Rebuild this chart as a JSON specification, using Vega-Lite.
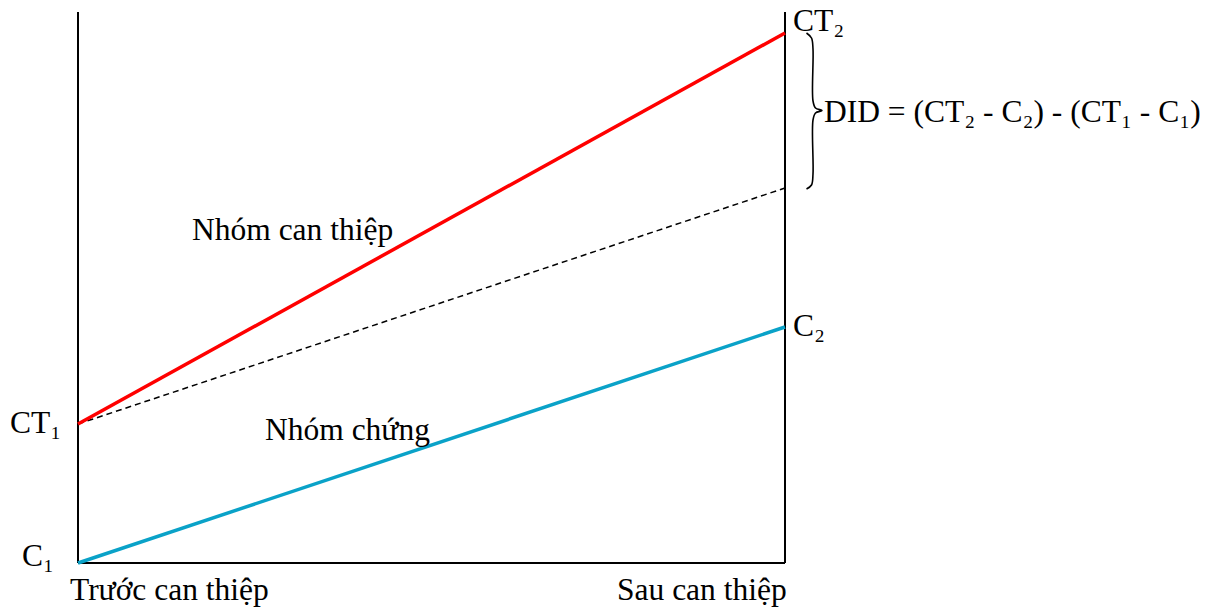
{
  "$schema": "https://vega.github.io/schema/vega-lite/v6.json",
  "width": 707,
  "height": 551,
  "autosize": "none",
  "padding": {"left": 78, "top": 12, "right": 428, "bottom": 44},
  "background": "white",
  "config": {"view": {"stroke": null}},
  "datasets": {
    "frame": [
      {"x": 0, "y": 0, "x2": 0, "y2": 551},
      {"x": 0, "y": 0, "x2": 707, "y2": 0},
      {"x": 707, "y": 0, "x2": 707, "y2": 551}
    ],
    "lines": [
      {"series": "Nhóm can thiệp", "x": 0, "y": 139},
      {"series": "Nhóm can thiệp", "x": 707, "y": 530},
      {"series": "Nhóm chứng", "x": 0, "y": 0},
      {"series": "Nhóm chứng", "x": 707, "y": 236}
    ],
    "counterfactual": [
      {"x": 0, "y": 139},
      {"x": 707, "y": 375}
    ],
    "brace": [
      {"i": 0, "x": 728.5, "y": 530},
      {"i": 1, "x": 733.5, "y": 525},
      {"i": 2, "x": 735, "y": 514},
      {"i": 3, "x": 735, "y": 462},
      {"i": 4, "x": 737.5, "y": 455},
      {"i": 5, "x": 744, "y": 452.5},
      {"i": 6, "x": 737.5, "y": 450},
      {"i": 7, "x": 735, "y": 443},
      {"i": 8, "x": 735, "y": 389},
      {"i": 9, "x": 733.5, "y": 378},
      {"i": 10, "x": 728.5, "y": 374}
    ],
    "labels": [
      {"text": "Trước can thiệp", "x": -8, "y": -37},
      {"text": "Sau can thiệp", "x": 539, "y": -37},
      {"text": "C₁", "x": -56, "y": -3},
      {"text": "CT₁", "x": -68, "y": 130},
      {"text": "CT₂", "x": 715, "y": 532},
      {"text": "C₂", "x": 715, "y": 227},
      {"text": "DID = (CT₂ - C₂) - (CT₁ - C₁)", "x": 746, "y": 441},
      {"text": "Nhóm can thiệp", "x": 114, "y": 323},
      {"text": "Nhóm chứng", "x": 187, "y": 123}
    ]
  },
  "layer": [
    {
      "data": {"name": "frame"},
      "mark": {"type": "rule", "color": "black", "strokeWidth": 2, "clip": false},
      "encoding": {
        "x": {"field": "x", "type": "quantitative", "scale": {"domain": [0, 707], "nice": false, "zero": false}, "axis": null},
        "y": {"field": "y", "type": "quantitative", "scale": {"domain": [0, 551], "nice": false, "zero": false}, "axis": null},
        "x2": {"field": "x2"},
        "y2": {"field": "y2"}
      }
    },
    {
      "data": {"name": "counterfactual"},
      "mark": {"type": "line", "color": "black", "strokeWidth": 1.5, "strokeDash": [6, 4], "clip": false},
      "encoding": {
        "x": {"field": "x", "type": "quantitative"},
        "y": {"field": "y", "type": "quantitative"}
      }
    },
    {
      "data": {"name": "lines"},
      "mark": {"type": "line", "strokeWidth": 3.5, "clip": false},
      "encoding": {
        "x": {"field": "x", "type": "quantitative"},
        "y": {"field": "y", "type": "quantitative"},
        "color": {"field": "series", "type": "nominal", "scale": {"domain": ["Nhóm can thiệp", "Nhóm chứng"], "range": ["#FF0000", "#0AA2C8"]}, "legend": null}
      }
    },
    {
      "data": {"name": "brace"},
      "mark": {"type": "line", "color": "black", "strokeWidth": 1.6, "interpolate": "catmull-rom", "clip": false},
      "encoding": {
        "x": {"field": "x", "type": "quantitative"},
        "y": {"field": "y", "type": "quantitative"},
        "order": {"field": "i", "type": "quantitative"}
      }
    },
    {
      "data": {"name": "labels"},
      "mark": {"type": "text", "align": "left", "baseline": "alphabetic", "font": "Liberation Serif", "fontSize": 31.5, "color": "black", "clip": false},
      "encoding": {
        "x": {"field": "x", "type": "quantitative"},
        "y": {"field": "y", "type": "quantitative"},
        "text": {"field": "text"}
      }
    }
  ]
}
